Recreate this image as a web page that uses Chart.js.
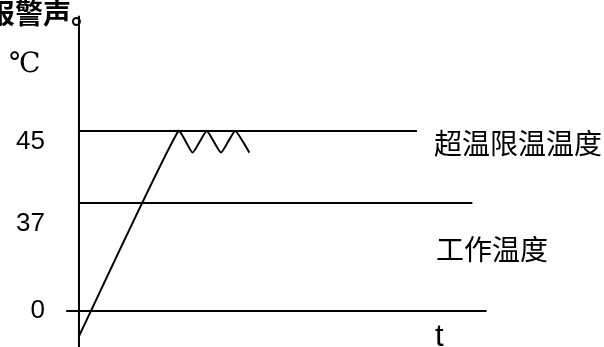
<!DOCTYPE html>
<html>
<head>
<meta charset="utf-8">
<script src="https://cdn.jsdelivr.net/npm/chart.js@4.4.1/dist/chart.umd.min.js"></script>
<style>
    html, body { margin: 0; padding: 0; background: #fff; }
    #wrap { width: 604px; height: 347px; }
</style>
</head>
<body>
<div id="wrap"><canvas id="tempChart" width="604" height="347"></canvas></div>
<script>
// schematic levels (diagram units) and the labels written beside them
const levelValues = [0, 3, 5];
const levelLabels = ['0', '37', '45'];
const levelLineStart = [-0.9, 0, 0];
const levelLineEnd = [28.7, 27.7, 23.8];

// temperature curve: rise then oscillate around the over-temperature limit
const curveX = [0, 7, 8, 9, 10, 11, 12];
const curveY = [-0.7, 5, 4.4, 5, 4.4, 5, 4.4];

// vertical axis extent
const axisTop = 8.2;
const axisBottom = -1.0;

const lineNames = ['工作温度', '超温限温温度'];

function makeLevelDataset(i) {
    return {
        data: [
            { x: levelLineStart[i], y: levelValues[i] },
            { x: levelLineEnd[i], y: levelValues[i] }
        ],
        borderColor: '#000',
        borderWidth: 2,
        pointRadius: 0,
        fill: false
    };
}

const textPlugin = {
    id: 'diagramText',
    afterDraw(chart) {
        const ctx = chart.ctx;
        const ys = chart.scales.y;
        ctx.save();
        ctx.fillStyle = '#000';

        // tick labels next to the axis
        const dy = [0, 21, 11];
        ctx.font = '26px "Liberation Sans", Arial, sans-serif';
        ctx.textAlign = 'right';
        ctx.textBaseline = 'middle';
        levelLabels.forEach((lbl, i) => {
            ctx.fillText(lbl, 45, ys.getPixelForValue(levelValues[i]) + dy[i]);
        });

        // unit
        ctx.font = '28px "DejaVu Serif", "Noto Sans CJK SC", serif';
        ctx.textAlign = 'left';
        ctx.fillText('℃', 9, 65);

        // time axis name
        ctx.textBaseline = 'alphabetic';
        ctx.font = '31px "Liberation Sans", Arial, sans-serif';
        ctx.fillText('t', 435, 346);

        // line names
        ctx.textBaseline = 'middle';
        ctx.font = '28px "Noto Sans CJK SC", sans-serif';
        ctx.fillText(lineNames[1], 434, ys.getPixelForValue(levelValues[2]) + 12);
        ctx.fillText(lineNames[0], 436, ys.getPixelForValue(levelValues[1]) + 46);

        // clipped text from the surrounding page
        ctx.textBaseline = 'alphabetic';
        ctx.font = 'bold 28px "Noto Sans CJK SC", sans-serif';
        ctx.fillText('报警声。', -13, 24);

        ctx.restore();
    }
};

const datasets = [
    makeLevelDataset(0),
    makeLevelDataset(1),
    makeLevelDataset(2),
    {
        data: [{ x: 0, y: axisTop }, { x: 0, y: axisBottom }],
        borderColor: '#000',
        borderWidth: 2,
        pointRadius: 0,
        fill: false
    },
    {
        data: curveX.map((x, i) => ({ x, y: curveY[i] })),
        borderColor: '#000',
        borderWidth: 2,
        pointRadius: 0,
        tension: 0.15,
        fill: false
    }
];

const chart = new Chart(document.getElementById('tempChart').getContext('2d'), {
    type: 'line',
    data: { datasets },
    options: {
        responsive: false,
        animation: false,
        layout: { padding: 0 },
        scales: {
            x: { type: 'linear', min: -5.56, max: 36.97, display: false },
            y: { type: 'linear', min: -1.0, max: 8.64, display: false }
        },
        plugins: {
            legend: { display: false },
            tooltip: { enabled: false }
        }
    },
    plugins: [textPlugin]
});
</script>
</body>
</html>
